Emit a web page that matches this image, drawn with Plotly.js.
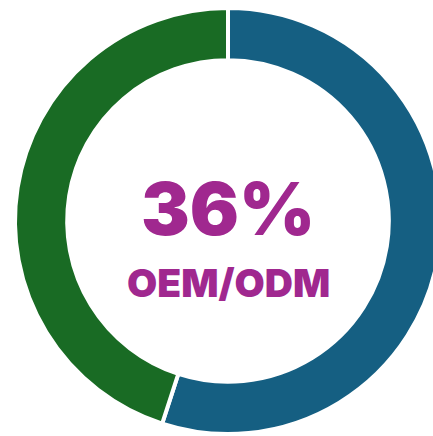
<!DOCTYPE html>
<html><head><meta charset="utf-8">
<script src="https://cdn.plot.ly/plotly-3.0.1.min.js"></script>
<style>html,body{margin:0;padding:0;overflow:hidden;background:#fff;}#chart{width:456px;height:436px;}</style>
</head><body><div id="chart"></div>
<script>
const labels = ["Segment A", "Segment B"];
const values = [55, 45];
const colors = ["#155F82", "#196B24"];
const centerValue = "36%";
const centerLabel = "OEM/ODM";

Plotly.newPlot("chart", [{
  type: "pie",
  labels: labels,
  values: values,
  sort: false,
  direction: "clockwise",
  rotation: 0,
  hole: 0.755,
  textinfo: "none",
  hoverinfo: "label+percent",
  marker: {colors: colors, line: {color: "#ffffff", width: 4}},
  domain: {x: [0, 1], y: [0, 1]}
}], {
  width: 456, height: 436,
  margin: {l: 0, r: 0, t: 8, b: 2},
  showlegend: false,
  paper_bgcolor: "#ffffff",
  annotations: [
    {text: centerValue, x: 0.5, y: 0.53, xref: "paper", yref: "paper", showarrow: false,
     font: {family: "Inter, Lato, sans-serif", size: 73, color: "#A0288F", weight: 900}},
    {text: centerLabel, x: 0.5, y: 0.355, xref: "paper", yref: "paper", showarrow: false,
     font: {family: "Inter, Lato, sans-serif", size: 39, color: "#A0288F", weight: 900}}
  ]
}, {displayModeBar: false, staticPlot: true});
</script></body></html>
